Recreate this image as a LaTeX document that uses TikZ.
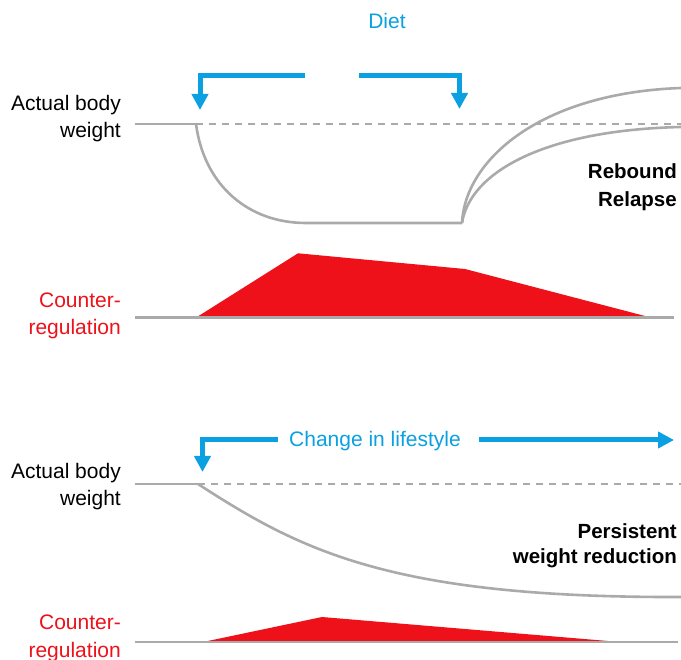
\documentclass[tikz,border=0pt]{standalone}
\usepackage{fontspec}
\setmainfont{Liberation Sans}
\usetikzlibrary{arrows.meta}
\definecolor{dietblue}{RGB}{10,160,226}
\definecolor{cred}{RGB}{238,17,25}
\definecolor{lgrey}{RGB}{170,170,170}
\begin{document}
\begin{tikzpicture}[x=1pt,y=-1pt,
  lbl/.style={font=\fontsize{21}{27}\selectfont, inner sep=0pt, anchor=base east},
  blbl/.style={font=\fontsize{20.5}{26}\selectfont\bfseries, inner sep=0pt, anchor=base east},
  rlbl/.style={lbl, text=cred},
  title/.style={font=\fontsize{21}{27}\selectfont, inner sep=0pt, anchor=base, text=dietblue},
  bluearrow/.style={draw=dietblue, line width=5pt, line join=miter, -{Triangle[width=16pt,length=16pt]}},
  gline/.style={draw=lgrey, line width=2.6pt},
  gdash/.style={draw=lgrey, line width=2.6pt, dash pattern=on 7pt off 6pt},
  redarea/.style={fill=cred, draw=none}
]
\useasboundingbox (0,0) rectangle (681,660);

% ===== Top panel =====
\node[title] (diet) at (387,29) {Diet};
\node[lbl] (abw1) at (121,110.5) {Actual body};
\node[lbl] (abw2) at (121,137.5) {weight};
\node[blbl] (reb1) at (677,178.5) {Rebound};
\node[blbl] (reb2) at (677,206.5) {Relapse};
\node[rlbl] (cr1) at (121,307.5) {Counter-};
\node[rlbl] (cr2) at (121,334.5) {regulation};

\coordinate (dL0) at (305,76);
\coordinate (dLc) at (200,76);
\coordinate (dLt) at (200,110);
\coordinate (dR0) at (359,76);
\coordinate (dRc) at (459.5,76);
\coordinate (dRt) at (459.5,109);
\draw[bluearrow] (dL0) -- (dLc) -- (dLt);
\draw[bluearrow] (dR0) -- (dRc) -- (dRt);

\coordinate (wS) at (135,124);
\coordinate (wA) at (196,124);
\coordinate (wE) at (681,124);
\coordinate (wB) at (306,223);
\coordinate (wC) at (462,223);
\coordinate (wU) at (681,88);
\coordinate (wL) at (681,127);
\draw[gdash] (wA) -- (wE);
\draw[gline] (wS) -- (wA);
\draw[gline] (wA) .. controls (204,185) and (248,223) .. (wB) -- (wC);
\draw[gline] (wC) .. controls (465,160) and (540,93) .. (wU);
\draw[gline] (wC) .. controls (470,172) and (545,130) .. (wL);

\coordinate (r1) at (196.5,317.3);
\coordinate (r2) at (298,253.3);
\coordinate (r3) at (465,269);
\coordinate (r4) at (650,317.3);
\fill[redarea] (r1) -- (r2) -- (r3) -- (r4) -- cycle;
\coordinate (bS) at (135,317.3);
\coordinate (bE) at (674,317.3);
\draw[gline] (bS) -- (bE);

% ===== Bottom panel =====
\node[title] (cil) at (375,446.5) {Change in lifestyle};
\node[lbl] (abw3) at (121,478.5) {Actual body};
\node[lbl] (abw4) at (121,505.5) {weight};
\node[blbl] (pwr1) at (677,538.5) {Persistent};
\node[blbl] (pwr2) at (677,564) {weight reduction};
\node[rlbl] (cr3) at (121,630) {Counter-};
\node[rlbl] (cr4) at (121,657) {regulation};

\coordinate (cL0) at (278,440);
\coordinate (cLc) at (202.5,440);
\coordinate (cLt) at (202.5,472);
\coordinate (cR0) at (479,440);
\coordinate (cRt) at (674,440);
\draw[bluearrow] (cL0) -- (cLc) -- (cLt);
\draw[bluearrow] (cR0) -- (cRt);

\coordinate (vS) at (135,484);
\coordinate (vA) at (198,484);
\coordinate (vE) at (681,484);
\coordinate (vF) at (681,597);
\draw[gdash] (vA) -- (vE);
\draw[gline] (vS) -- (vA);
\draw[gline] (vA) .. controls (300,550) and (390,598) .. (vF);

\coordinate (s1) at (203,642);
\coordinate (s2) at (322,617);
\coordinate (s3) at (620,642);
\fill[redarea] (s1) -- (s2) -- (s3) -- cycle;
\coordinate (tS) at (135,642);
\coordinate (tE) at (678,642);
\draw[gline] (tS) -- (tE);
\end{tikzpicture}
\end{document}
